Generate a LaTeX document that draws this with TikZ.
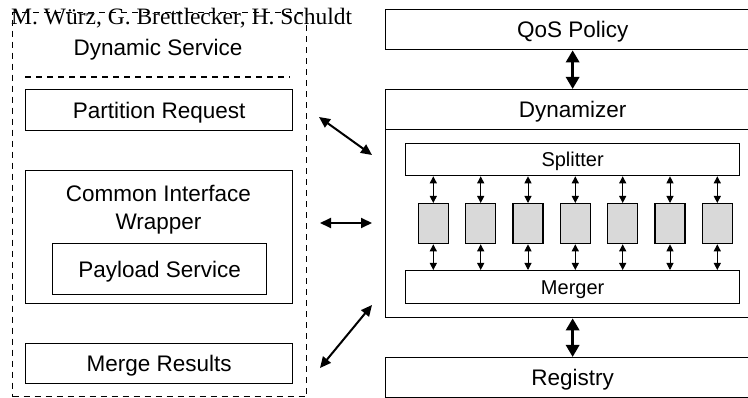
\documentclass[tikz,border=0pt]{standalone}
\usepackage{fontspec}
\setmainfont{Liberation Sans}
\newfontfamily\authorfont{Liberation Serif}
\usetikzlibrary{arrows.meta}
\tikzset{
  box/.style={draw, line width=1.3pt, inner sep=0pt, anchor=north west,
    font=\fontsize{22.5}{28}\selectfont, text height=16.1pt, text depth=0pt},
  subbox/.style={box, font=\fontsize{20}{24}\selectfont, text height=14.3pt},
  worker/.style={draw, line width=1.3pt, fill=black!15, minimum width=30pt,
    minimum height=40pt, inner sep=0pt, anchor=north},
  lbl/.style={inner sep=0pt, anchor=base, font=\fontsize{22.5}{28}\selectfont},
  bigarrow/.style={line width=3pt, arrows={Triangle[width=13pt,length=12pt]-Triangle[width=13pt,length=12pt]}},
  midarrow/.style={line width=2pt, arrows={Triangle[width=10pt,length=11pt]-Triangle[width=10pt,length=11pt]}},
  smallarrow/.style={line width=1pt, arrows={Triangle[width=7pt,length=7pt]-Triangle[width=7pt,length=7pt]}},
}
\begin{document}
\begin{tikzpicture}[x=1pt,y=-1pt]
\useasboundingbox (0,0) rectangle (748,398);
\clip (0,0) rectangle (748,398);

% dynamic service container
\node[draw, line width=1.3pt, dash pattern=on 6pt off 5pt, anchor=north west,
  minimum width=294pt, minimum height=384pt, inner sep=0pt] (dynsvc) at (12,12) {};
\node[lbl] (dsname) at (158,55.7) {Dynamic Service};
\draw[line width=1.3pt, dash pattern=on 6pt off 5pt] (25,77) -- (290,77);

\node[box, minimum width=267pt, minimum height=41pt] (part) at (25,89) {Partition Request};
\node[box, minimum width=267pt, minimum height=133pt] (ciw) at (25,170) {};
\node[lbl, align=center] (ciwname) at (158.5,230) {Common Interface\\Wrapper};
\node[box, minimum width=214pt, minimum height=51pt] (payload) at (52,243) {Payload Service};
\node[box, minimum width=267pt, minimum height=40pt] (mres) at (25,343) {Merge Results};

% author header
\node[inner sep=0pt, anchor=base west, font=\authorfont\fontsize{23.5}{28}\selectfont]
  (authors) at (11,25) {M. Würz, G. Brettlecker, H. Schuldt};

% right-hand stack
\node[box, minimum width=374pt, minimum height=40pt] (qos) at (385,9) {QoS Policy};
\node[draw, line width=1.3pt, anchor=north west, minimum width=374pt,
  minimum height=228pt, inner sep=0pt] (dyn) at (385,89) {};
\node[box, minimum width=374pt, minimum height=40pt] (dynhead) at (385,89) {Dynamizer};
\node[subbox, minimum width=334pt, minimum height=32pt] (split) at (405,143) {Splitter};
\node[subbox, minimum width=334pt, minimum height=33pt] (merge) at (405,270) {Merger};
\node[box, minimum width=374pt, minimum height=40pt] (reg) at (385,357) {Registry};

\foreach \i/\cx in {1/433.3, 2/480.7, 3/528, 4/575.3, 5/622.7, 6/670, 7/717.3} {
  \node[worker] (w\i) at (\cx,203) {};
  \draw[smallarrow] (w\i.north |- split.south) -- (w\i.north);
  \draw[smallarrow] (w\i.south) -- (w\i.south |- merge.north);
}

\draw[bigarrow] (qos.south) -- (dyn.north);
\draw[bigarrow] (dyn.south) -- (reg.north);

% links between the dynamic service and the dynamizer
\coordinate (pa) at (319,117);
\coordinate (pb) at (372,155);
\coordinate (ca) at (320,223);
\coordinate (cb) at (372,223);
\coordinate (ma) at (320,368);
\coordinate (mb) at (372,305);
\draw[midarrow] (pa) -- (pb);
\draw[midarrow] (ca) -- (cb);
\draw[midarrow] (ma) -- (mb);
\end{tikzpicture}
\end{document}
